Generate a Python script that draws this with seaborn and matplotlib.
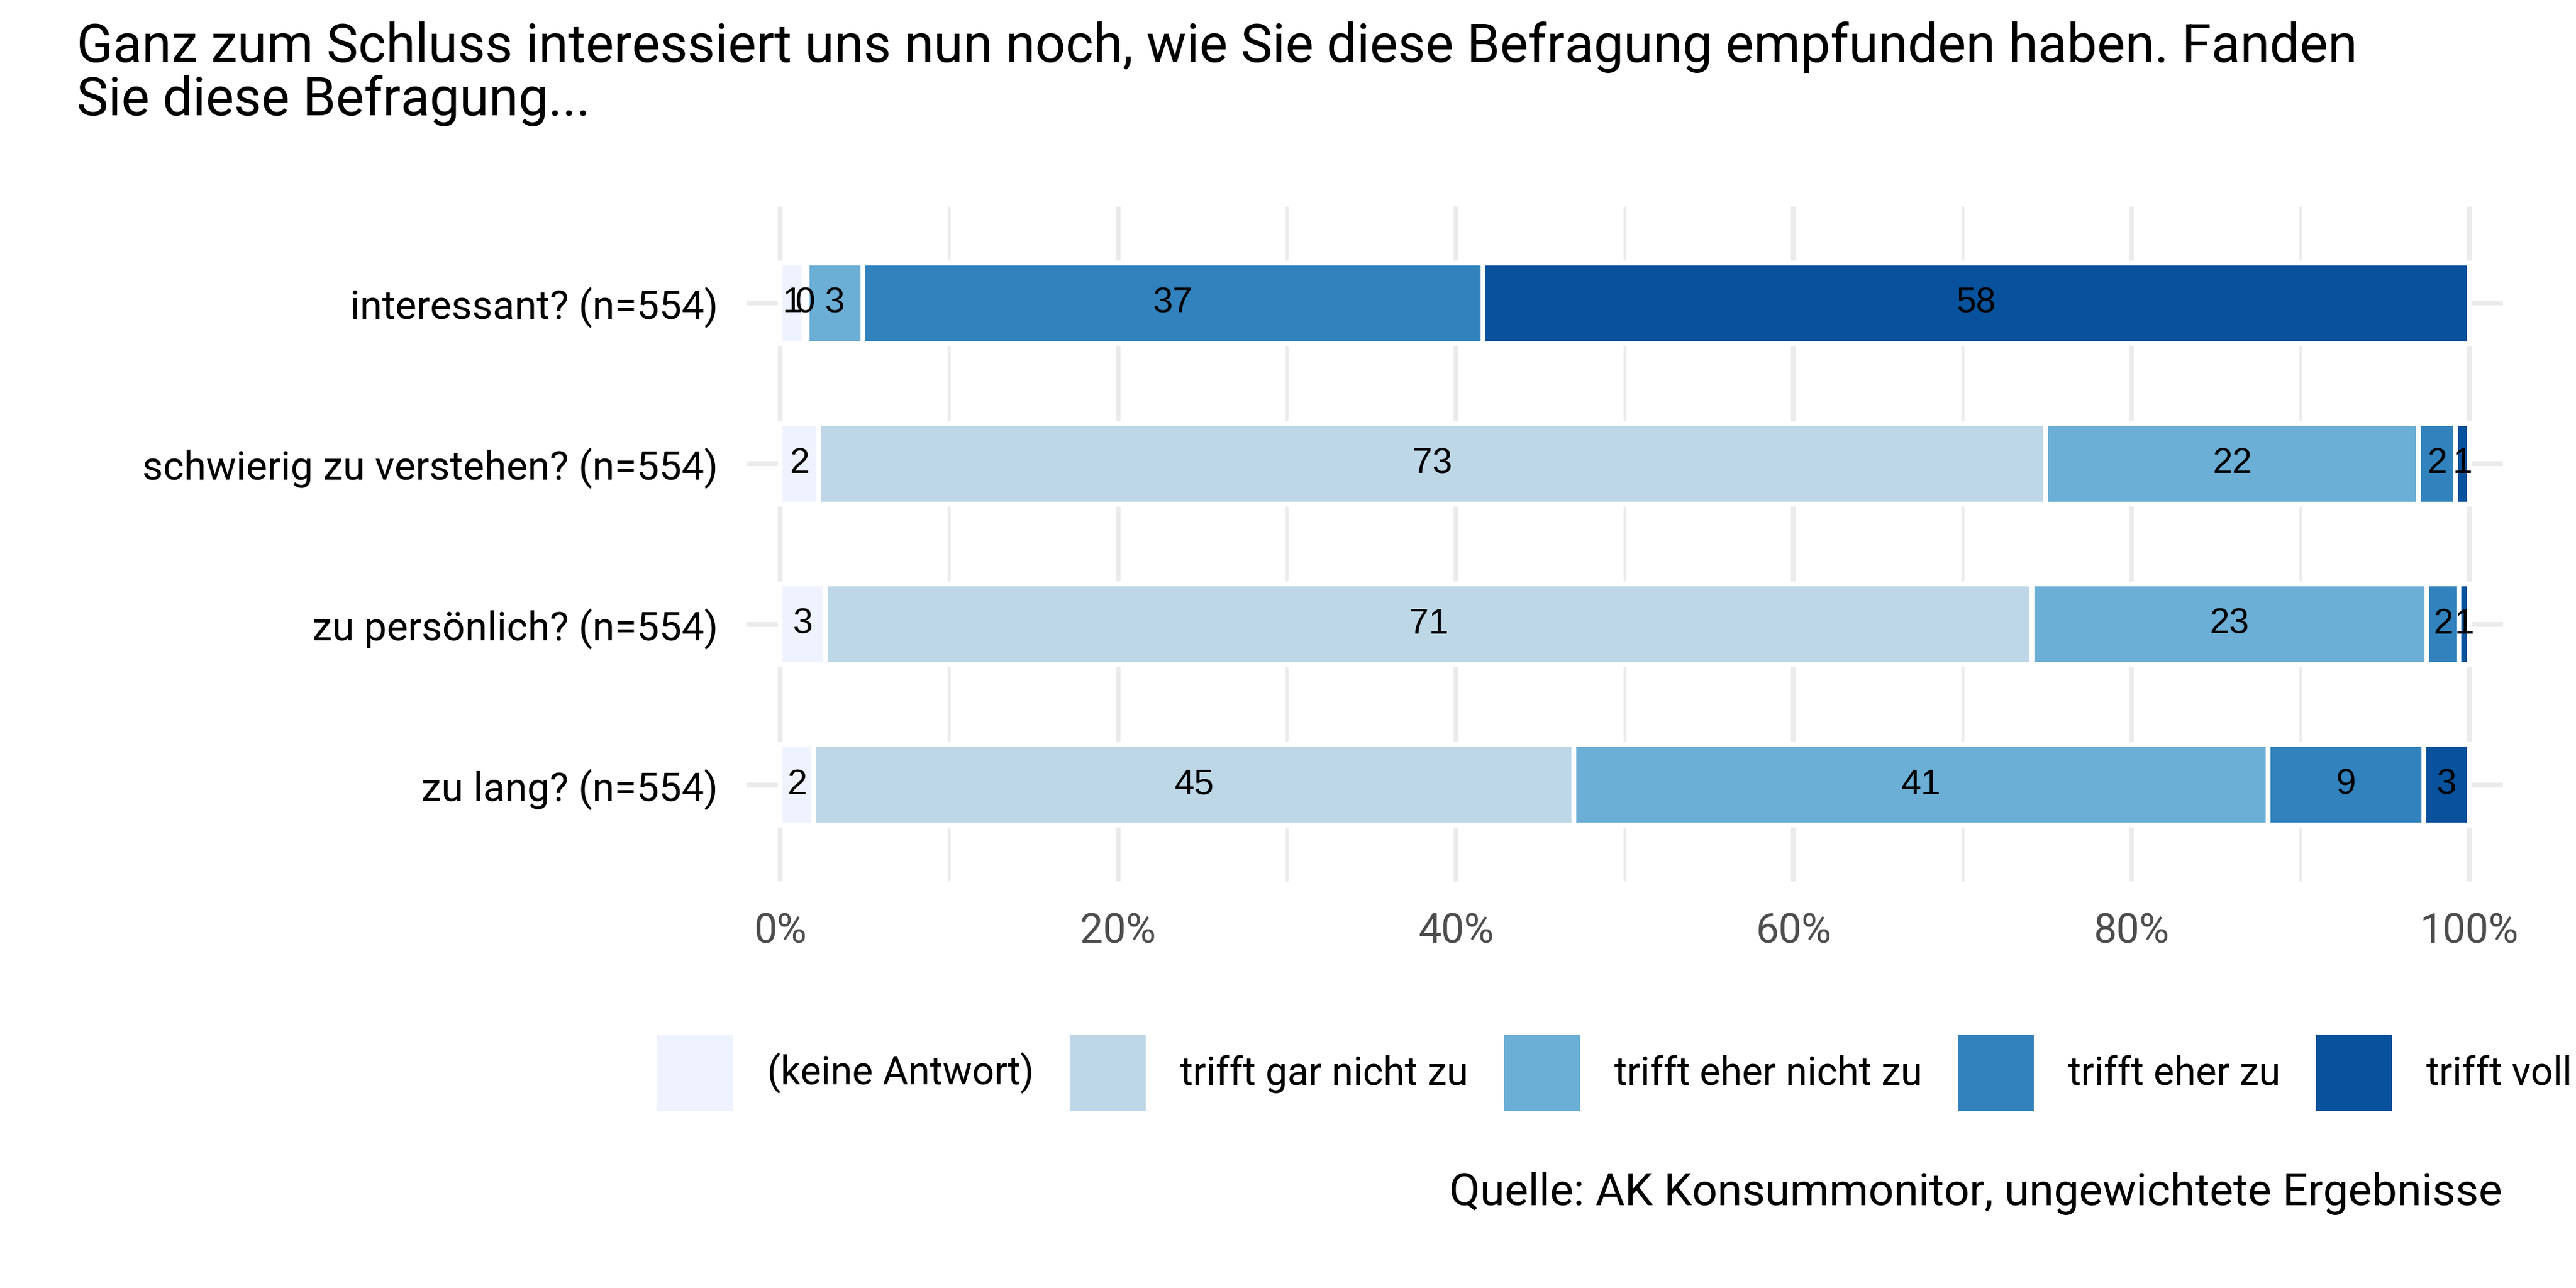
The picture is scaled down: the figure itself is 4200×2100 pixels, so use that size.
import numpy as np
import pandas as pd
import matplotlib.pyplot as plt
import seaborn as sns
from matplotlib.patches import Patch
from matplotlib.ticker import MultipleLocator, PercentFormatter

# Daten (Anteile in %)
questions = ["interessant? (n=554)", "schwierig zu verstehen? (n=554)",
             "zu persönlich? (n=554)", "zu lang? (n=554)"]
answers = ["(keine Antwort)", "trifft gar nicht zu", "trifft eher nicht zu",
           "trifft eher zu", "trifft voll zu"]
colors = ["#EFF3FF", "#BDD7E7", "#6BAED6", "#3182BD", "#08519C"]

keine_antwort = [1.4, 2.3, 2.7, 2.0]
gar_nicht = [0.2, 72.6, 71.4, 45.0]
eher_nicht = [3.3, 22.1, 23.4, 41.1]
eher_zu = [36.7, 2.2, 1.9, 9.2]
voll = [58.4, 0.8, 0.6, 2.7]

title = ("Ganz zum Schluss interessiert uns nun noch, wie Sie diese Befragung empfunden haben. Fanden\n"
         "Sie diese Befragung...")
caption = "Quelle: AK Konsummonitor, ungewichtete Ergebnisse"

df = pd.DataFrame({"frage": questions,
                   answers[0]: keine_antwort, answers[1]: gar_nicht,
                   answers[2]: eher_nicht, answers[3]: eher_zu, answers[4]: voll})
cum = df[answers].cumsum(axis=1)

sns.set_style("white")
plt.rcParams["font.family"] = ["Roboto", "DejaVu Sans"]
plt.rcParams["text.color"] = "black"

fig, ax = plt.subplots(figsize=(14, 7), dpi=300)
ax.set_position([1217 / 4200, 1 - 1437 / 2100, (4081 - 1217) / 4200, (1437 - 337) / 2100])

# gestapelte Balken: kumulierte Summen von hinten nach vorne zeichnen
for ans, col in reversed(list(zip(answers, colors))):
    sns.barplot(x=cum[ans], y=df["frage"], orient="h", color=col, saturation=1,
                width=0.5, edgecolor="white", linewidth=1.9, errorbar=None, ax=ax)

# Beschriftung in der Mitte jedes Segments
for i in range(len(questions)):
    for ans in answers:
        v = df.loc[i, ans]
        ax.text(cum.loc[i, ans] - v / 2, i, f"{v:.0f}", ha="center", va="center",
                fontsize=14, family="Liberation Sans", color="black")

ax.set_xlim(-2, 102)
ax.set_ylim(3.6, -0.6)
ax.xaxis.set_major_locator(MultipleLocator(20))
ax.xaxis.set_minor_locator(MultipleLocator(10))
ax.xaxis.set_major_formatter(PercentFormatter(100, decimals=0))
ax.set_axisbelow(True)
ax.grid(axis="x", which="major", color="#EBEBEB", lw=1.85)
ax.grid(axis="x", which="minor", color="#EBEBEB", lw=1.1)
ax.grid(axis="y", which="major", color="#EBEBEB", lw=1.85)
ax.set_xlabel("")
ax.set_ylabel("")
sns.despine(ax=ax, left=True, bottom=True)
ax.tick_params(axis="x", which="both", length=0, pad=12, labelsize=16, labelcolor="#4D4D4D")
ax.tick_params(axis="y", length=0, pad=11, labelsize=15.7, labelcolor="black")

fig.text(125 / 4200, 1 - 35 / 2100, title, ha="left", va="top", fontsize=20.85,
         linespacing=1.05, color="black")

handles = [Patch(facecolor=c, edgecolor="none") for c in colors]
fig.legend(handles, answers, ncol=5, loc="center left", bbox_to_anchor=(1071 / 4200, 0.167),
           frameon=False, fontsize=15.3, handlelength=1.945, handleheight=2.615,
           handletextpad=0.88, columnspacing=0.91, borderpad=0, borderaxespad=0,
           labelcolor="black")

fig.text(4080 / 4200, 1 - 1965 / 2100, caption, ha="right", va="baseline",
         fontsize=17.5, color="black")

fig.savefig("out.png", dpi=300)
